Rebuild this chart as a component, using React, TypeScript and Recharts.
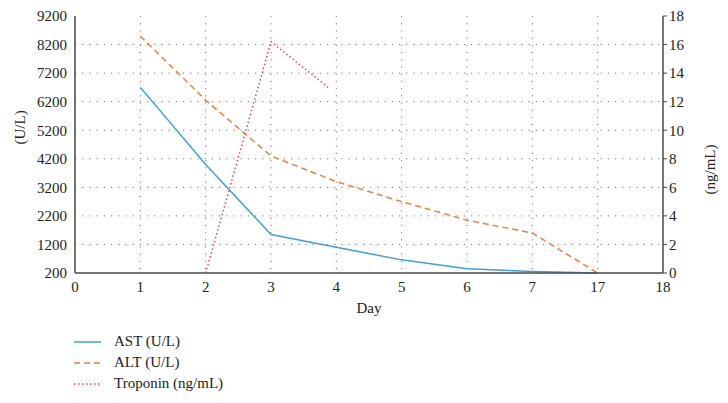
import React from "react";
import { LineChart, Line, XAxis, YAxis, CartesianGrid } from "recharts";

const dayLabels = ["0", "1", "2", "3", "4", "5", "6", "7", "17", "18"];
const dayPositions = [1, 2, 3, 4, 5, 6, 7, 8];
const astValues = [6700, 4000, 1550, 1100, 660, 350, 250, 200];
const altValues = [8500, 6250, 4300, 3400, 2700, 2050, 1600, 200];
const troponinPositions = [2, 3, 3.9];
const troponinValues = [0, 16.2, 12.9];
const leftTicks = [200, 1200, 2200, 3200, 4200, 5200, 6200, 7200, 8200, 9200];
const rightTicks = [0, 2, 4, 6, 8, 10, 12, 14, 16, 18];

const astData = dayPositions.map((x, i) => ({ x, v: astValues[i] }));
const altData = dayPositions.map((x, i) => ({ x, v: altValues[i] }));
const tropData = troponinPositions.map((x, i) => ({ x, v: troponinValues[i] }));

const FONT = "'Liberation Serif', 'DejaVu Serif', serif";
const AXIS = "#4a4a4a";
const tick = { fontSize: 15, fill: "#222", fontFamily: FONT };

const series = [
  { name: "AST (U/L)", color: "#3d9fe2", dash: undefined },
  { name: "ALT (U/L)", color: "#f27c3e", dash: "6 4" },
  { name: "Troponin (ng/mL)", color: "#e8474f", dash: "1.5 2.5" },
];

export default function App() {
  return (
    <div style={{ position: "absolute", left: 0, top: 0, width: 728, height: 403, background: "#fff" }}>
      <LineChart
        width={728}
        height={403}
        margin={{ top: 16, right: 12, bottom: 90, left: 14 }}
      >
        <CartesianGrid
          xAxisId="bottom"
          yAxisId="left"
          stroke="#777"
          strokeDasharray="1.2 6"
          horizontalValues={[1200, 2200, 3200, 4200, 5200, 6200, 7200, 8200]}
          verticalValues={[1, 2, 3, 4, 5, 6, 7, 8]}
        />
        <XAxis
          xAxisId="bottom"
          type="number"
          dataKey="x"
          domain={[0, 9]}
          ticks={[0, 1, 2, 3, 4, 5, 6, 7, 8, 9]}
          tickFormatter={(v: number) => dayLabels[v]}
          tick={tick}
          tickLine={false}
          axisLine={{ stroke: AXIS, strokeWidth: 1.5 }}
          height={40}
          label={{ value: "Day", position: "insideBottom", offset: 0, fontSize: 15, fill: "#222", fontFamily: FONT }}
        />
        <XAxis
          xAxisId="top"
          orientation="top"
          type="number"
          domain={[0, 9]}
          tick={false}
          tickLine={false}
          axisLine={{ stroke: AXIS, strokeWidth: 1.5 }}
          height={0}
        />
        <YAxis
          yAxisId="left"
          domain={[200, 9200]}
          ticks={leftTicks}
          tick={tick}
          tickLine={false}
          axisLine={{ stroke: AXIS, strokeWidth: 1.5 }}
          width={61}
          label={{ value: "(U/L)", angle: -90, position: "insideLeft", offset: 6, fontSize: 15, fill: "#222", fontFamily: FONT }}
        />
        <YAxis
          yAxisId="right"
          orientation="right"
          domain={[0, 18]}
          ticks={rightTicks}
          tick={tick}
          tickSize={4}
          tickLine={{ stroke: AXIS }}
          axisLine={{ stroke: AXIS, strokeWidth: 1.5 }}
          width={53}
          label={{ value: "(ng/mL)", angle: -90, position: "insideRight", offset: 6, fontSize: 15, fill: "#222", fontFamily: FONT }}
        />
        <Line
          xAxisId="bottom"
          yAxisId="left"
          data={astData}
          dataKey="v"
          name="AST (U/L)"
          stroke={series[0].color}
          strokeWidth={1.5}
          dot={false}
          isAnimationActive={false}
        />
        <Line
          xAxisId="bottom"
          yAxisId="left"
          data={altData}
          dataKey="v"
          name="ALT (U/L)"
          stroke={series[1].color}
          strokeWidth={1.5}
          strokeDasharray={series[1].dash}
          dot={false}
          isAnimationActive={false}
        />
        <Line
          xAxisId="bottom"
          yAxisId="right"
          data={tropData}
          dataKey="v"
          name="Troponin (ng/mL)"
          stroke={series[2].color}
          strokeWidth={1.5}
          strokeDasharray={series[2].dash}
          dot={false}
          isAnimationActive={false}
        />
      </LineChart>
      <div style={{ position: "absolute", left: 74, top: 331, fontFamily: FONT, fontSize: 15, color: "#222" }}>
        {series.map((s) => (
          <div key={s.name} style={{ display: "flex", alignItems: "center", height: 21 }}>
            <svg width={28} height={10} style={{ marginRight: 12 }}>
              <line x1={0} y1={5} x2={27} y2={5} stroke={s.color} strokeWidth={1.5} strokeDasharray={s.dash} />
            </svg>
            <span>{s.name}</span>
          </div>
        ))}
      </div>
    </div>
  );
}
